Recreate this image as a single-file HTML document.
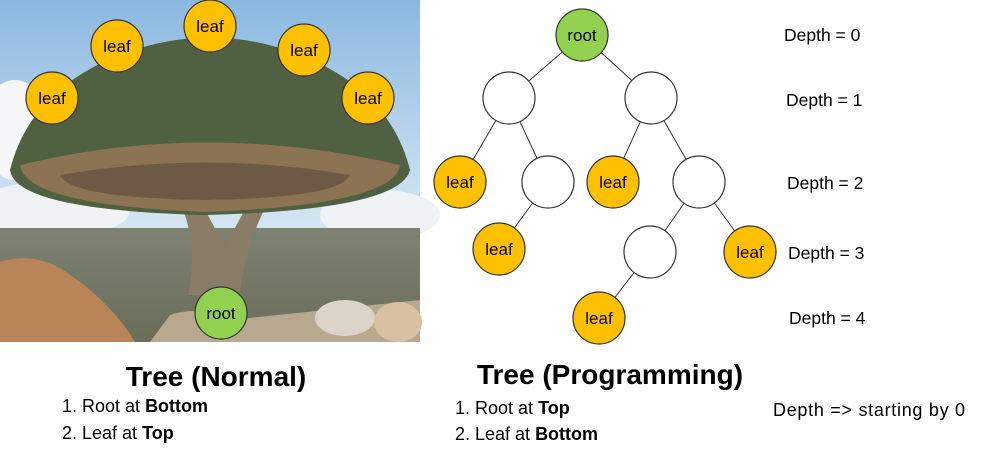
<!DOCTYPE html>
<html><head><meta charset="utf-8"><style>
body{margin:0;width:984px;height:456px;background:#fff;overflow:hidden;font-family:"Liberation Sans",sans-serif}
</style></head><body>
<svg width="984" height="456" viewBox="0 0 984 456" xmlns="http://www.w3.org/2000/svg" font-family="Liberation Sans, sans-serif">
<defs>
<linearGradient id="sky" x1="0" y1="0" x2="0" y2="1"><stop offset="0" stop-color="#8bb8e0"/><stop offset="0.6" stop-color="#cfe2f1"/><stop offset="1" stop-color="#f2f5f7"/></linearGradient>
<linearGradient id="gr" x1="0" y1="0" x2="0" y2="1"><stop offset="0" stop-color="#7d8272"/><stop offset="1" stop-color="#6a6d58"/></linearGradient>
</defs>
<rect x="0" y="0" width="420" height="342" fill="url(#sky)"/>
<ellipse cx="15" cy="130" rx="35" ry="50" fill="#f4f6f8"/>
<ellipse cx="50" cy="210" rx="80" ry="28" fill="#f0f3f6"/>
<ellipse cx="380" cy="215" rx="60" ry="25" fill="#f0f3f6"/>
<rect x="0" y="228" width="420" height="114" fill="url(#gr)"/>
<path d="M0 262 Q30 252 60 268 Q110 300 135 342 L0 342Z" fill="#b98458"/>
<path d="M150 342 L170 315 Q200 305 230 320 L420 300 L420 342Z" fill="#b8a890"/>
<ellipse cx="345" cy="318" rx="30" ry="18" fill="#ddd4c8"/>
<ellipse cx="398" cy="322" rx="24" ry="20" fill="#d8c0a0"/>
<path d="M188 295 Q200 240 175 190 L195 190 Q215 230 225 245 Q240 220 255 190 L275 190 Q245 240 240 295Z" fill="#8a7c66"/>
<path d="M10 170 Q30 90 120 55 Q210 20 300 55 Q390 90 410 170 Q400 210 205 215 Q15 210 10 170Z" fill="#4f6140"/>
<path d="M20 165 Q205 120 400 165 Q395 205 205 212 Q25 205 20 165Z" fill="#8c7354"/>
<path d="M60 175 Q205 150 350 175 Q340 198 205 200 Q70 198 60 175Z" fill="#6e5a44"/>
<g stroke="#333" stroke-width="1.2">
<circle cx="52" cy="98" r="26" fill="#ffc000"/><circle cx="117" cy="46" r="26" fill="#ffc000"/>
<circle cx="210" cy="26" r="26" fill="#ffc000"/><circle cx="304" cy="50" r="26" fill="#ffc000"/>
<circle cx="368" cy="98" r="26" fill="#ffc000"/><circle cx="221" cy="313" r="26" fill="#92d050"/>
</g>
<g font-size="17" text-anchor="middle" fill="#000">
<text x="52" y="104">leaf</text><text x="117" y="52">leaf</text><text x="210" y="32">leaf</text>
<text x="304" y="56">leaf</text><text x="368" y="104">leaf</text><text x="221" y="319">root</text>
</g>
<g stroke="#333" stroke-width="1">
<line x1="582" y1="35" x2="509" y2="98"/><line x1="582" y1="35" x2="651" y2="98"/>
<line x1="509" y1="98" x2="460" y2="182"/><line x1="509" y1="98" x2="548" y2="182"/>
<line x1="651" y1="98" x2="613" y2="182"/><line x1="651" y1="98" x2="699" y2="182"/>
<line x1="548" y1="182" x2="499" y2="249"/><line x1="699" y1="182" x2="650" y2="252"/>
<line x1="699" y1="182" x2="750" y2="252"/><line x1="650" y1="252" x2="599" y2="318"/>
</g>
<g stroke="#333" stroke-width="1.2">
<circle cx="582" cy="35" r="26" fill="#92d050"/>
<circle cx="509" cy="98" r="26" fill="#fff"/><circle cx="651" cy="98" r="26" fill="#fff"/>
<circle cx="460" cy="182" r="26" fill="#ffc000"/><circle cx="548" cy="182" r="26" fill="#fff"/>
<circle cx="613" cy="182" r="26" fill="#ffc000"/><circle cx="699" cy="182" r="26" fill="#fff"/>
<circle cx="499" cy="249" r="26" fill="#ffc000"/><circle cx="650" cy="252" r="26" fill="#fff"/>
<circle cx="750" cy="252" r="26" fill="#ffc000"/><circle cx="599" cy="318" r="26" fill="#ffc000"/>
</g>
<g font-size="17" text-anchor="middle" fill="#000">
<text x="582" y="41">root</text><text x="460" y="188">leaf</text><text x="613" y="188">leaf</text>
<text x="499" y="255">leaf</text><text x="750" y="258">leaf</text><text x="599" y="324">leaf</text>
</g>
<g font-size="17.5" fill="#000">
<text x="784" y="41">Depth = 0</text><text x="786" y="106">Depth = 1</text>
<text x="787" y="189">Depth = 2</text><text x="788" y="259">Depth = 3</text>
<text x="789" y="324">Depth = 4</text>
</g>
<text x="773" y="416" font-size="18" fill="#000" textLength="192">Depth =&gt; starting by 0</text>
<g font-size="28" font-weight="bold" text-anchor="middle" fill="#000">
<text x="216" y="386">Tree (Normal)</text><text x="610" y="384">Tree (Programming)</text>
</g>
<g font-size="18" fill="#000">
<text x="62" y="412">1. Root at <tspan font-weight="bold">Bottom</tspan></text>
<text x="62" y="439">2. Leaf at <tspan font-weight="bold">Top</tspan></text>
<text x="455" y="414">1. Root at <tspan font-weight="bold">Top</tspan></text>
<text x="455" y="440">2. Leaf at <tspan font-weight="bold">Bottom</tspan></text>
</g>
</svg>
</body></html>
